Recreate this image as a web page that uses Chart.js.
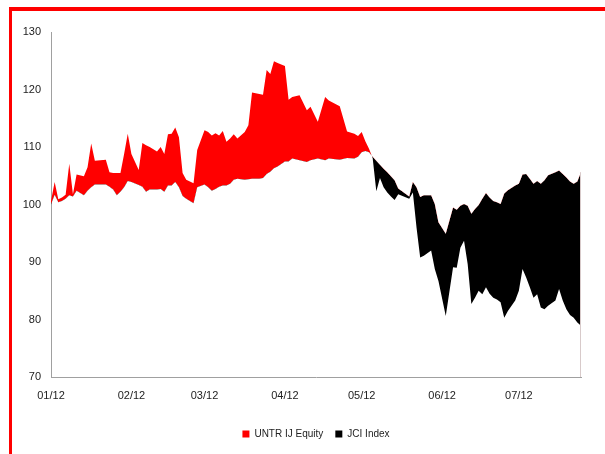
<!DOCTYPE html>
<html>
<head>
<meta charset="utf-8">
<script src="https://cdn.jsdelivr.net/npm/chart.js@4.4.1/dist/chart.umd.min.js"></script>
<style>
  html, body { margin: 0; padding: 0; background: #fff; overflow: hidden; }
  #frame {
    position: absolute; left: 9px; top: 7px; width: 700px; height: 600px;
    border-left: 3px solid #ff0000; border-top: 4px solid #ff0000;
  }
  #chart { position: absolute; left: 0; top: 0; }
</style>
</head>
<body>
<div id="frame"></div>
<canvas id="chart" width="605" height="454"></canvas>
<script>
// trading day index, Jan 2 2012 = 0
const days = [
  0, 1, 2, 3, 4, 5, 6, 7, 9, 10,
  11, 12, 15, 16, 17, 18, 19, 20, 21, 22,
  24, 25, 26, 27, 29, 30, 31, 32, 33, 34,
  35, 36, 37, 38, 39, 40, 42, 43, 44, 45,
  46, 47, 48, 49, 50, 51, 53, 54, 55, 57,
  58, 59, 60, 61, 62, 64, 65, 66, 68, 70,
  71, 73, 75, 76, 79, 81, 83, 84, 85, 86,
  87, 88, 89, 90, 91, 92, 93, 94, 95, 98,
  99, 100, 101, 102, 104, 105, 106, 108, 110, 111,
  112, 113, 114, 115, 116, 117, 118, 119, 120, 121,
  122, 123, 124, 125, 127, 128, 129, 130, 131, 132,
  133, 134, 135, 136, 138, 139, 140, 141, 142, 143,
  144, 145
];

// rebased to 100
const untr = [
  100.6, 103.9, 100.9, 101.2, 101.7, 107.1, 101.8, 105.2, 104.9, 106.5,
  110.6, 107.6, 107.8, 105.6, 105.5, 105.5, 105.5, 108.8, 112.3, 108.8,
  106.0, 110.7, 110.3, 110.0, 109.2, 110.0, 108.8, 112.2, 112.3, 113.4,
  111.7, 105.5, 104.3, 104.0, 103.7, 109.5, 112.9, 112.6, 112.0, 112.4,
  112.0, 112.8, 110.9, 111.5, 112.2, 111.5, 112.6, 113.8, 119.5, 119.2,
  119.1, 123.4, 122.7, 124.9, 124.6, 124.1, 118.2, 118.7, 119.0, 116.4,
  117.0, 114.4, 118.7, 118.1, 117.1, 112.7, 112.3, 111.9, 112.6, 111.0,
  109.7, 108.1, 102.3, 104.6, 103.0, 102.1, 101.4, 100.8, 101.8, 101.0,
  102.1, 96.0, 90.8, 91.1, 92.0, 88.8, 86.7, 80.6, 89.1, 89.0,
  92.5, 93.7, 89.6, 82.7, 83.8, 85.0, 84.4, 85.6, 84.5, 83.8,
  83.5, 83.0, 80.3, 81.5, 83.3, 85.0, 88.8, 87.3, 85.6, 83.8,
  84.4, 82.1, 81.8, 82.4, 83.3, 85.3, 83.3, 81.8, 80.8, 80.3,
  79.5, 78.9
];

const jci = [
  100.0, 101.7, 100.4, 100.6, 101.0, 101.6, 101.4, 102.4, 101.6, 102.4,
  103.0, 103.5, 103.5, 103.1, 102.6, 101.6, 102.2, 103.0, 104.1, 103.9,
  103.4, 103.1, 102.2, 102.6, 102.6, 102.7, 102.2, 103.3, 103.3, 103.9,
  103.0, 101.5, 101.0, 100.6, 100.2, 103.0, 103.5, 103.0, 102.4, 102.7,
  103.1, 103.3, 103.3, 103.6, 104.3, 104.5, 104.3, 104.4, 104.5, 104.5,
  104.6, 105.3, 105.7, 106.3, 106.6, 107.5, 107.5, 108.0, 107.7, 107.4,
  107.7, 108.0, 107.7, 108.0, 107.8, 108.1, 108.0, 108.3, 109.1, 109.3,
  109.1, 108.3, 107.6, 106.9, 106.2, 105.6, 104.9, 104.2, 102.8, 101.4,
  103.9, 103.0, 101.3, 101.6, 101.6, 100.1, 96.9, 94.9, 99.5, 99.1,
  99.8, 100.1, 99.8, 98.4, 99.2, 99.9, 101.0, 102.0, 101.2, 100.6,
  100.4, 100.1, 101.9, 102.5, 103.3, 103.6, 105.2, 105.3, 104.5, 103.6,
  104.1, 103.6, 104.2, 105.1, 105.6, 105.9, 105.3, 104.7, 104.0, 103.6,
  104.0, 105.6
];

// month starts on the same day index
const monthTicks = [0, 22, 42, 64, 85, 107, 128];
const monthLabels = ['01/12', '02/12', '03/12', '04/12', '05/12', '06/12', '07/12'];

const FONT = "'Liberation Sans', Arial, sans-serif";
const AXIS_GREY = '#a0a0a0';

// thin edge at the right end of the area, like the Excel area chart
const endEdge = {
  id: 'endEdge',
  afterDatasetsDraw(chart) {
    const { ctx, scales: { x, y }, chartArea } = chart;
    const last = days.length - 1;
    const px = Math.round(x.getPixelForValue(days[last])) - 0.5;
    const top = y.getPixelForValue(Math.max(untr[last], jci[last]));
    ctx.save();
    ctx.strokeStyle = '#d8caca';
    ctx.lineWidth = 1;
    ctx.beginPath();
    ctx.moveTo(px, top);
    ctx.lineTo(px, chartArea.bottom);
    ctx.stroke();
    ctx.restore();
  }
};

new Chart(document.getElementById('chart'), {
  type: 'line',
  data: {
    datasets: [
      {
        label: 'UNTR IJ Equity',
        data: days.map((d, i) => ({ x: d, y: untr[i] })),
        backgroundColor: '#ff0000',
        borderColor: '#ff0000',
        borderWidth: 0,
        pointRadius: 0,
        tension: 0,
        fill: { target: 1, above: '#ff0000', below: '#000000' }
      },
      {
        label: 'JCI Index',
        data: days.map((d, i) => ({ x: d, y: jci[i] })),
        backgroundColor: '#000000',
        borderColor: '#000000',
        borderWidth: 0,
        pointRadius: 0,
        tension: 0,
        fill: false
      }
    ]
  },
  options: {
    responsive: false,
    animation: false,
    devicePixelRatio: 1,
    layout: { padding: { left: 0, top: 32, right: 24, bottom: 5 } },
    plugins: {
      legend: {
        position: 'bottom',
        fullSize: false,
        labels: {
          boxWidth: 7,
          boxHeight: 7,
          padding: 12,
          color: '#222',
          font: { family: FONT, size: 10 }
        }
      },
      tooltip: { enabled: false }
    },
    scales: {
      x: {
        type: 'linear',
        min: days[0],
        max: days[days.length - 1],
        afterBuildTicks: (scale) => { scale.ticks = monthTicks.map(v => ({ value: v })); },
        afterFit: (scale) => { scale.height = 40; },
        ticks: {
          autoSkip: false,
          maxRotation: 0,
          padding: 12,
          color: '#222',
          font: { family: FONT, size: 11 },
          callback: (v) => monthLabels[monthTicks.indexOf(v)]
        },
        grid: { display: false, drawTicks: false },
        border: { display: true, color: AXIS_GREY }
      },
      y: {
        min: 70,
        max: 130,
        afterFit: (scale) => { scale.width = 51; },
        ticks: {
          stepSize: 10,
          padding: 10,
          color: '#222',
          font: { family: FONT, size: 11 }
        },
        grid: { display: false, drawTicks: false },
        border: { display: true, color: AXIS_GREY }
      }
    }
  },
  plugins: [endEdge]
});
</script>
</body>
</html>
